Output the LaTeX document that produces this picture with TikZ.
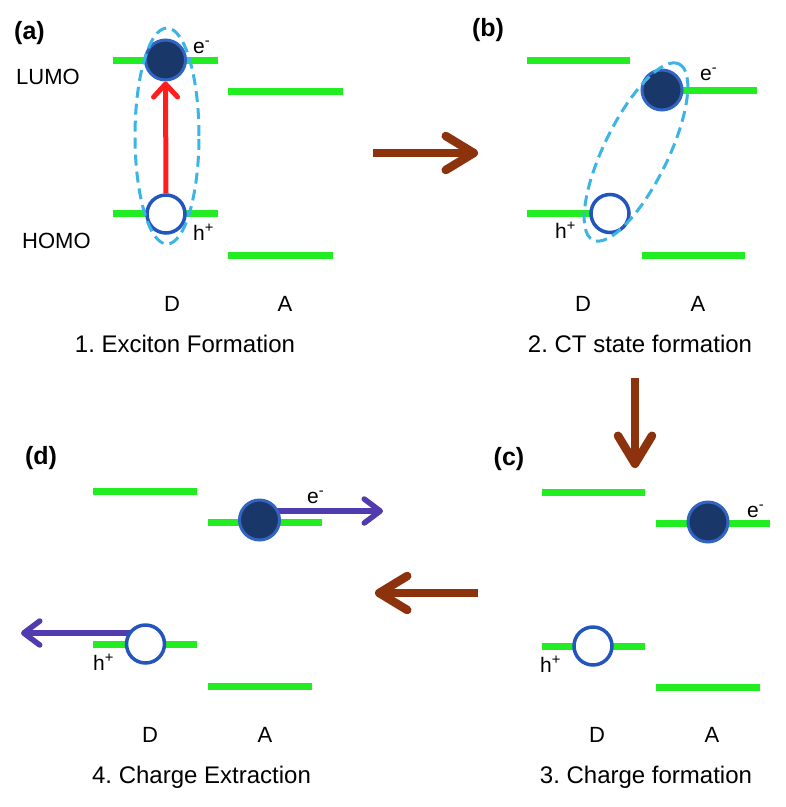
\documentclass[tikz,border=0pt]{standalone}
\usepackage{fontspec}
\setmainfont{Liberation Sans}
\usetikzlibrary{arrows.meta}
\definecolor{lvl}{RGB}{34,236,34}
\definecolor{brownarr}{RGB}{140,50,12}
\definecolor{navy}{RGB}{25,55,105}
\definecolor{rimblue}{RGB}{50,100,195}
\definecolor{holeblue}{RGB}{35,85,190}
\definecolor{dashblue}{RGB}{60,180,230}
\definecolor{redarr}{RGB}{255,30,30}
\definecolor{purparr}{RGB}{80,60,175}
\begin{document}
\frenchspacing
\begin{tikzpicture}[x=1pt,y=-1pt,
  level/.style={draw=lvl, line width=7pt},
  elec/.style={circle, fill=navy, draw=rimblue, line width=3pt, minimum size=40pt, inner sep=0pt},
  hole/.style={circle, fill=white, draw=holeblue, line width=3.5pt, minimum size=38pt, inner sep=0pt},
  exc/.style={draw=dashblue, line width=3pt, dash pattern=on 11pt off 6pt},
  bigarrow/.style={draw=brownarr, line width=8.5pt, -{Straight Barb[length=28pt,width=34pt,round]}},
  redarrow/.style={draw=redarr, line width=5pt, -{Straight Barb[length=13pt,width=24pt,round]}},
  purparrow/.style={draw=purparr, line width=5.5pt, -{Straight Barb[length=16pt,width=24pt,round]}},
  lbl/.style={font=\fontsize{22}{26}\selectfont, inner sep=0pt},
  capt/.style={font=\fontsize{24}{28}\selectfont, inner sep=0pt, anchor=base},
  tag/.style={font=\fontsize{25}{30}\selectfont\bfseries, inner sep=0pt},
  chg/.style={font=\fontsize{21}{25}\selectfont, inner sep=0pt, anchor=base west}]
\useasboundingbox[fill=white] (0,0) rectangle (786,807);

% ---------- panel (a)
\draw[level] (113,60) -- (218,60);
\draw[level] (228,91) -- (343,91);
\draw[level] (113,213) -- (218,213);
\draw[level] (228,255) -- (333,255);
\node[elec] (ea) at (165.5,60) {};
\node[hole] (ha) at (166,214) {};
\draw[redarrow] (ha.north) -- (ea.south);
\draw[exc] (167,136) ellipse [x radius=32pt, y radius=108pt];
\node[tag] (ta) at (29.5,33) {(a)};
\node[lbl, anchor=base west] (lumo) at (16,84) {LUMO};
\node[lbl, anchor=base west] (homo) at (22,248) {HOMO};
\node[chg] (ela) at (193,53) {e\textsuperscript{-}};
\node[chg] (hla) at (193,240) {h\textsuperscript{+}};
\node[lbl] (da) at (172,304) {D};
\node[lbl] (aa) at (285,304) {A};
\node[capt] (c1) at (185,352) {1. Exciton Formation};

% ---------- panel (b)
\draw[level] (527,60) -- (630,60);
\draw[level] (642,90) -- (757,90);
\draw[level] (527,213) -- (610,213);
\draw[level] (642,255) -- (745,255);
\node[elec] (eb) at (662,90) {};
\node[hole] (hb) at (610,213.5) {};
\draw[exc, rotate around={63.9:(636,152)}] (636,152) ellipse [x radius=98pt, y radius=32pt];
\node[tag] (tb) at (488,30) {(b)};
\node[chg] (elb) at (700,80) {e\textsuperscript{-}};
\node[chg] (hlb) at (555,238) {h\textsuperscript{+}};
\node[lbl] (db) at (583,304) {D};
\node[lbl] (ab) at (698,304) {A};
\node[capt] (c2) at (640,352) {2. CT state formation};

% ---------- panel (c)
\draw[level] (542,492) -- (645,492);
\draw[level] (656,523) -- (770,523);
\draw[level] (542,646) -- (645,646);
\draw[level] (656,687) -- (760,687);
\node[elec] (ec) at (708,522) {};
\node[hole] (hc) at (593,646) {};
\node[tag] (tc) at (509,459) {(c)};
\node[chg] (elc) at (747,517) {e\textsuperscript{-}};
\node[chg] (hlc) at (540,672) {h\textsuperscript{+}};
\node[lbl] (dc) at (597,735) {D};
\node[lbl] (ac) at (712,735) {A};
\node[capt] (c3) at (646,783) {3. Charge formation};

% ---------- panel (d)
\draw[level] (93,491) -- (197,491);
\draw[level] (208,522) -- (322,522);
\draw[level] (93,644) -- (197,644);
\draw[level] (208,686) -- (312,686);
\coordinate (eout) at (383,511);
\coordinate (hout) at (21,633);
\draw[purparrow] (259.5,511) -- (259.5,511 -| eout);
\draw[purparrow] (145.5,633) -- (145.5,633 -| hout);
\node[elec] (ed) at (259.5,520) {};
\node[hole] (hd) at (145.5,644) {};
\node[tag] (td) at (41,458) {(d)};
\node[chg] (eld) at (307,503) {e\textsuperscript{-}};
\node[chg] (hld) at (93,670) {h\textsuperscript{+}};
\node[lbl] (dd) at (150,735) {D};
\node[lbl] (ad) at (265,735) {A};
\node[capt] (c4) at (201.5,783) {4. Charge Extraction};

% ---------- transitions
\coordinate (r1s) at (373,153);
\coordinate (r1e) at (478,153);
\coordinate (r2s) at (635,378);
\coordinate (r2e) at (635,468);
\coordinate (r3s) at (478,593);
\coordinate (r3e) at (375,593);
\draw[bigarrow] (r1s) -- (r1e);
\draw[bigarrow] (r2s) -- (r2e);
\draw[bigarrow] (r3s) -- (r3e);
\end{tikzpicture}
\end{document}
